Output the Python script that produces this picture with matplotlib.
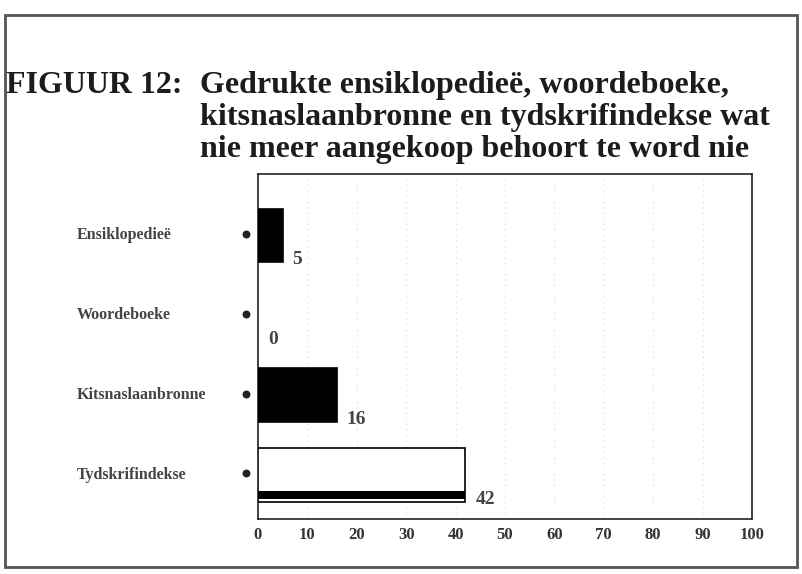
import numpy as np
import matplotlib
matplotlib.use("Agg")
from matplotlib import pyplot as plt
from matplotlib.patches import Rectangle
import matplotlib.transforms as mtransforms

categories   = ['Ensiklopedieë', 'Woordeboeke', 'Kitsnaslaanbronne', 'Tydskrifindekse']
values       = [5, 0, 16, 42]
value_labels = ['5', '0', '16', '42']
xticks       = [0, 10, 20, 30, 40, 50, 60, 70, 80, 90, 100]

title_head  = 'FIGUUR 12:'
title_lines = ['Gedrukte ensiklopedieë, woordeboeke,',
               'kitsnaslaanbronne en tydskrifindekse wat',
               'nie meer aangekoop behoort te word nie']

W, H = 803, 574
fig = plt.figure(figsize=(W / 100, H / 100), dpi=100)
fig.patch.set_facecolor('white')
serif = 'Liberation Serif'
ink   = '#1c1c1c'

# outer frame
fig.patches.append(Rectangle((5 / W, 1 - 567 / H), 792 / W, 552 / H, transform=fig.transFigure,
                             fill=False, edgecolor='#555555', linewidth=2))

# title
fig.text(6 / W, 1 - 93 / H, title_head, family=serif, weight='bold', size=23, color=ink, va='baseline')
for i, line in enumerate(title_lines):
    fig.text(200 / W, 1 - (93 + 32 * i) / H, line, family=serif, weight='bold', size=23,
             color=ink, va='baseline')

# plot area
left, right, top, bottom = 258, 752, 174, 519
ax = fig.add_axes([left / W, 1 - bottom / H, (right - left) / W, (bottom - top) / H])
ax.set_xlim(0, 100)
ax.set_ylim(3.55, -0.77)

y = np.arange(len(categories))
colors = ['black', 'black', 'black', 'white']
edges  = ['black' if v > 0 else 'none' for v in values]
ax.barh(y, values, height=0.67, color=colors, edgecolor=edges, linewidth=1.2, zorder=3)
# dark stripe along the bottom of the last bar
ax.barh(y[3] + 0.25, values[3], height=0.1, color='black', zorder=4)

for yi, v, lab in zip(y, values, value_labels):
    ax.text(v + 2, yi + 0.3, lab, family=serif, weight='bold', size=14, color='#444444',
            ha='left', va='center')

for x in xticks[1:-1]:
    ax.axvline(x, color='#d8d8d8', linestyle=(0, (1, 4)), linewidth=0.8, zorder=1)

trans = mtransforms.blended_transform_factory(ax.transAxes, ax.transData)
ax.scatter([-0.024] * len(y), y - 0.02, s=22, color='#222222', transform=trans, clip_on=False, zorder=5)
for yi, cat in zip(y, categories):
    ax.text(-0.367, yi, cat, transform=trans, family=serif, weight='bold', size=11.5,
            color='#444444', ha='left', va='center')

ax.set_yticks([])
ax.set_xticks(xticks)
ax.set_xticklabels([str(t) for t in xticks], family=serif, weight='bold', size=12, color='#333333')
ax.tick_params(axis='x', length=0, pad=6)
for s in ax.spines.values():
    s.set_color('#222222')
    s.set_linewidth(1.2)

fig.savefig('out.png', dpi=100, facecolor='white')
